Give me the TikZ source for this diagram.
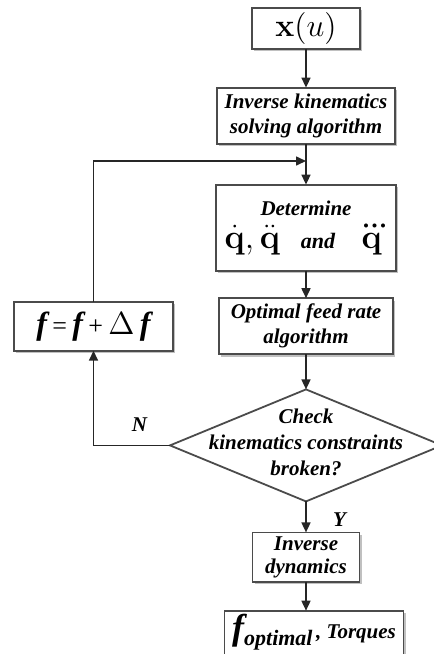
\documentclass[tikz,border=0pt]{standalone}
\usepackage{fix-cm}
\usepackage{amsmath}
\usepackage[no-math]{fontspec}
\setmainfont{Liberation Serif}
\usetikzlibrary{arrows.meta,positioning,shapes.geometric,shadows}
\definecolor{LineGray}{RGB}{75,75,75}
\definecolor{ShadowGray}{RGB}{150,150,150}

\begin{document}
\begin{tikzpicture}[
    >={Triangle[length=5pt,width=4.5pt]},
    box/.style={rectangle, draw=LineGray, line width=0.9pt, fill=white,
                drop shadow={shadow xshift=1.2pt, shadow yshift=-1.2pt,
                             fill=ShadowGray, opacity=0.6},
                align=center, inner sep=2pt, outer sep=0pt,
                font=\fontsize{10.5}{12.5}\selectfont\bfseries\itshape},
    arr/.style={->, line width=0.8pt, draw=black!85},
    lbl/.style={font=\fontsize{10.5}{12.5}\selectfont\bfseries\itshape},
]

\useasboundingbox (0,0) rectangle (217pt,-327pt);

% ── Input curve ──
\node[box, minimum width=54pt, minimum height=20.5pt] (xu) at (153pt,-14.25pt)
    {\fontsize{16}{18}\selectfont$\mathbf{x}(u)$};

% ── Inverse kinematics ──
\node[box, below=19.3pt of xu, minimum width=89pt, minimum height=28pt]
    (ik) {Inverse kinematics\\solving algorithm};

% ── Merge point of the loop ──
\coordinate[below=8.7pt of ik] (merge);

% ── Derivatives ──
\node[box, below=20.5pt of ik, minimum width=90pt, minimum height=43pt]
    (det) {Determine\\[4pt]{\fontsize{17}{20}\selectfont$\dot{\mathbf{q}},\ddot{\mathbf{q}}$}\quad
           {\fontsize{11}{12}\selectfont and}\quad
           {\fontsize{17}{20}\selectfont$\dddot{\mathbf{q}}$}};

% ── Optimal feed rate ──
\node[box, below=13.8pt of det, minimum width=87pt, minimum height=28pt]
    (ofr) {Optimal feed rate\\algorithm};

% ── Feed rate update ──
\node[box, left=23pt of ofr, minimum width=79.5pt, minimum height=24.5pt]
    (upd) {\fontsize{16}{18}\selectfont f\,{\mdseries\upshape\fontsize{13}{14}\selectfont =}\,f\,%
           {\mdseries\upshape\fontsize{13}{14}\selectfont +}\,$\Delta$\,f};

% ── Constraint check ──
\node[diamond, draw=LineGray, line width=0.9pt, below=17.6pt of ofr,
      minimum width=136pt, minimum height=56pt, inner sep=0pt, outer sep=0pt] (chk) {};
\node[lbl, align=center, font=\fontsize{10.5}{13}\selectfont\bfseries\itshape]
    (chktxt) at ([yshift=1.5pt]chk.center) {Check\\kinematics constraints\\broken?};

% ── Inverse dynamics ──
\node[box, below=15.5pt of chk, minimum width=53.5pt, minimum height=24pt,
      font=\fontsize{10.5}{11.5}\selectfont\bfseries\itshape]
    (invd) {Inverse\\dynamics};

% ── Result ──
\node[box, below=14.5pt of invd, xshift=4pt, minimum width=89.5pt,
      text height=12.5pt, text depth=30pt]
    (fopt) {{\fontsize{18}{20}\selectfont f}\raisebox{-3pt}{\fontsize{11}{12}\selectfont optimal}\,%
            \raisebox{0.5pt}{, Torques}};

% ── Arrows: main line ──
\draw[arr] (xu) -- (ik);
\draw[arr] (ik) -- (det);
\draw[arr] (det) -- (ofr);
\draw[arr] (ofr) -- (chk);
\draw[arr] (chk) -- (invd);
\draw[arr] (invd) -- ([xshift=-4pt]fopt.north);

% ── Arrows: loop back ──
\draw[arr] (chk.west) -| (upd.south);
\draw[arr] (upd.north) |- (merge);

% ── Branch labels ──
\node[lbl, anchor=south east] at ([xshift=-8pt,yshift=3.5pt]chk.west) {N};
\node[lbl, anchor=north west] at ([xshift=10pt,yshift=-2pt]chk.south) {Y};

\end{tikzpicture}
\end{document}
